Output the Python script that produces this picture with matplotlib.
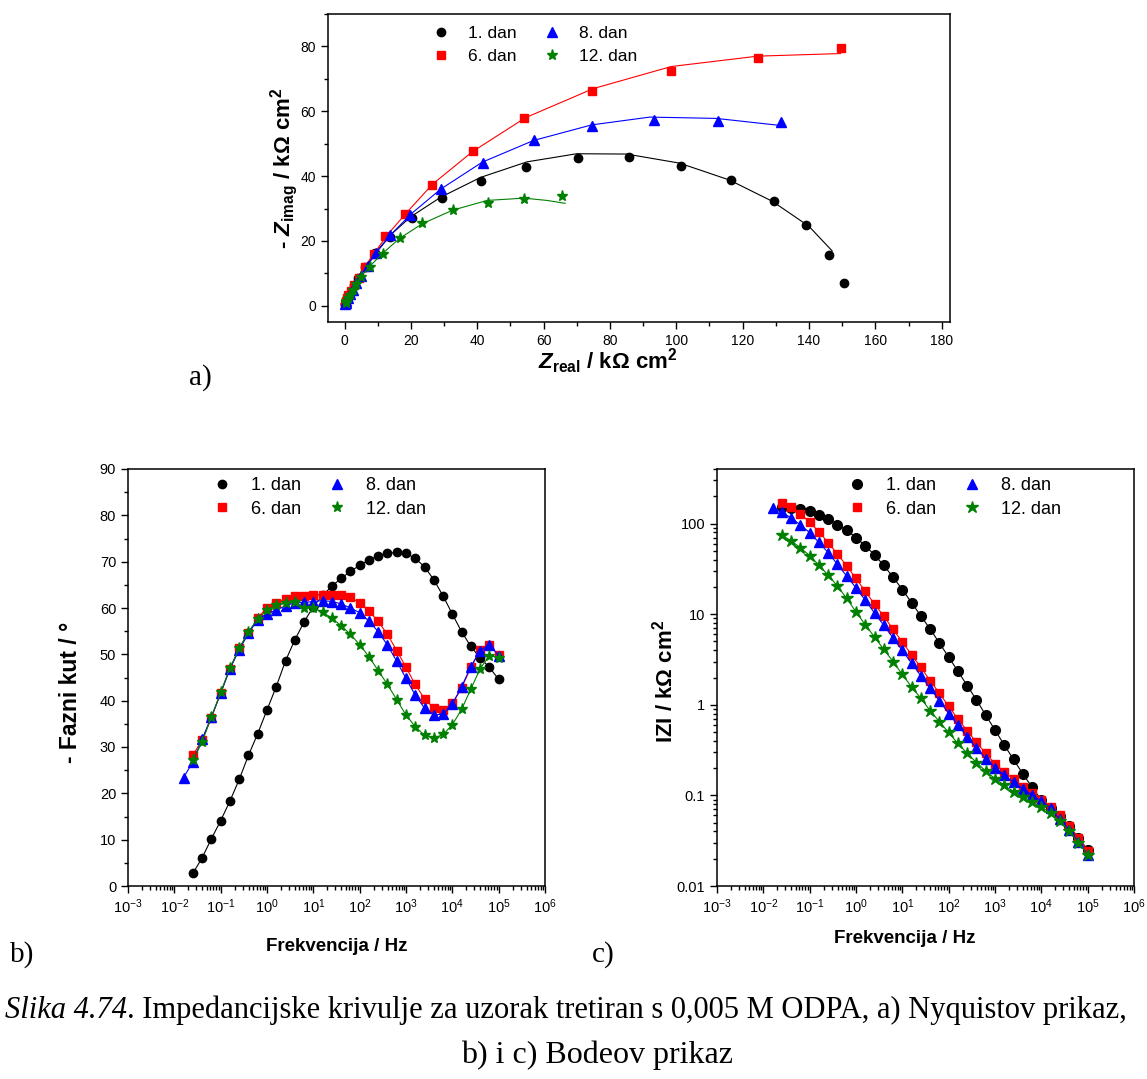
import matplotlib
matplotlib.use('Agg')
import matplotlib.pyplot as plt
from matplotlib.ticker import MultipleLocator, LogLocator, NullFormatter

plt.rcParams['font.family'] = ['Liberation Sans', 'DejaVu Sans']
plt.rcParams['mathtext.fontset'] = 'custom'
plt.rcParams['mathtext.rm'] = 'Liberation Sans'
plt.rcParams['mathtext.it'] = 'Liberation Sans:italic:bold'
plt.rcParams['mathtext.bf'] = 'Liberation Sans:bold'

labels = ['1. dan', '6. dan', '8. dan', '12. dan']
colors = ['black', 'red', 'blue', 'green']
markers = ['o', 's', '^', '*']

# Nyquist (kOhm cm2)
nyq_re = [
    [150.5, 146.0, 139.1, 129.4, 116.6, 101.4, 85.7, 70.3, 54.8, 41.0, 29.3, 20.2, 13.6, 9.3, 6.1, 4.1, 2.7, 1.8, 1.2, 0.8, 0.53, 0.35, 0.23, 0.15],
    [149.5, 124.5, 98.5, 74.6, 54.2, 38.6, 26.5, 18.2, 12.3, 8.9, 6.2, 4.2, 2.8, 1.8, 1.1, 0.7, 0.4, 0.2],
    [131.5, 112.5, 93.3, 74.6, 57.0, 41.6, 29.0, 19.8, 13.7, 9.4, 7.1, 5.0, 3.5, 2.4, 1.5, 1.0, 0.55, 0.3, 0.15],
    [65.6, 54.2, 43.1, 32.6, 23.4, 16.6, 11.5, 7.6, 5.0, 3.5, 2.4, 1.5, 1.0, 0.55, 0.3],
]
nyq_im = [
    [7.1, 15.8, 24.8, 32.4, 38.7, 43.2, 45.8, 45.7, 42.8, 38.4, 33.4, 27.2, 21.3, 16.2, 11.9, 8.6, 6.3, 4.4, 3.1, 2.2, 1.5, 1.05, 0.7, 0.5],
    [79.6, 76.5, 72.3, 66.4, 57.9, 47.7, 37.4, 28.3, 21.4, 15.9, 11.9, 8.7, 6.4, 4.6, 3.3, 2.3, 1.4, 0.7],
    [56.7, 57.0, 57.2, 55.5, 51.2, 44.1, 35.9, 28.1, 21.8, 16.4, 12.3, 9.3, 6.9, 5.0, 3.5, 2.5, 1.5, 0.8, 0.4],
    [33.9, 33.0, 31.8, 29.5, 25.4, 21.0, 16.1, 12.0, 8.9, 6.6, 4.8, 3.4, 2.4, 1.5, 0.8],
]
# fitted curves in the Nyquist plot
fit_re = [
    [0, 2, 5, 9, 14, 20, 29, 41, 55, 70, 85, 101, 116, 129, 140, 147],
    [0, 2, 5, 9, 13, 18.5, 26.5, 38.5, 54.5, 75, 98.5, 124.5, 149.5],
    [0, 2, 5, 9.5, 14, 20, 29, 41.5, 57, 74.5, 92, 112, 131.5],
    [0, 1.5, 3.5, 5, 7.6, 11.5, 16.6, 23.4, 32.6, 43, 54, 61, 66.5],
]
fit_im = [
    [0, 4.5, 10, 16, 22, 27.5, 33.5, 39.6, 44.4, 46.9, 46.8, 44.0, 38.8, 32.2, 24.5, 16.9],
    [0, 4.8, 10.5, 16.3, 22, 28.5, 37.5, 47.5, 58, 67, 73.8, 77, 77.8],
    [0, 4.3, 9.5, 16.3, 22, 28.3, 36, 44.3, 51, 55.8, 58.2, 57.8, 55.6],
    [0, 3.4, 6.8, 9, 12.2, 16.2, 20.8, 25.3, 29.5, 32.5, 33.2, 32.5, 31.6],
]

# Bode data
freq = [0.0251, 0.0398, 0.0631, 0.1, 0.158, 0.251, 0.398, 0.631, 1.0, 1.58, 2.51, 3.98, 6.31,
        10, 15.8, 25.1, 39.8, 63.1, 100, 158, 251, 398, 631, 1000, 1580, 2510, 3980, 6310,
        10000, 15800, 25100, 39800, 63100, 100000]
freq8 = [0.0158] + freq
freqs = [freq, freq, freq8, freq]

phase = [
    [2.7, 6.1, 10.2, 14.1, 18.3, 23.0, 28.2, 32.9, 38.0, 43.0, 48.6, 53.1, 57.0, 60.3, 62.7, 64.7, 66.4,
     67.9, 69.2, 70.4, 71.2, 71.8, 72.0, 71.8, 70.7, 68.9, 66.1, 62.6, 58.7, 54.9, 51.7, 49.2, 47.2, 44.6],
    [28.2, 31.5, 36.3, 41.6, 46.9, 51.3, 54.6, 57.8, 60.1, 61.1, 61.9, 62.6, 62.6, 62.9, 62.9, 62.9, 62.8,
     62.3, 61.1, 59.4, 57.1, 54.3, 50.8, 47.2, 43.5, 40.4, 38.4, 37.9, 39.4, 42.7, 47.2, 51.0, 52.0, 49.8],
    [23.4, 26.8, 31.7, 36.5, 41.6, 46.8, 51.0, 54.5, 57.5, 58.8, 59.5, 60.5, 61.1, 61.2, 61.4, 61.6, 61.4,
     60.9, 60.0, 59.0, 57.2, 54.9, 52.0, 48.5, 44.8, 41.2, 38.4, 36.9, 37.1, 39.2, 43.0, 47.3, 50.8, 52.1, 49.7],
    [27.1, 31.1, 36.5, 41.8, 47.0, 51.3, 54.9, 57.6, 59.6, 60.6, 61.0, 61.3, 60.1, 60.0, 59.1, 57.8, 56.2,
     54.3, 52.1, 49.5, 46.5, 43.5, 40.2, 36.9, 34.4, 32.5, 31.9, 32.7, 34.8, 38.1, 42.5, 46.9, 49.7, 49.3],
]
modz = [
    [153, 148, 144, 136, 124, 112, 96.7, 84.4, 70, 57, 45, 34.5, 25.6, 18.7, 13.4, 9.55, 6.86, 4.8, 3.36,
     2.35, 1.63, 1.13, 0.77, 0.526, 0.361, 0.249, 0.173, 0.123, 0.089, 0.073, 0.059, 0.0457, 0.034, 0.0252],
    [168, 152, 128, 103.5, 81.5, 61.5, 46.1, 34, 24.8, 17.9, 12.9, 9.5, 6.8, 4.93, 3.56, 2.58, 1.85, 1.34,
     0.96, 0.697, 0.517, 0.384, 0.29, 0.224, 0.182, 0.151, 0.125, 0.107, 0.090, 0.075, 0.0606, 0.0457, 0.034, 0.0246],
    [148, 134, 115, 96.7, 79.4, 62, 47.7, 35.4, 26.3, 19.5, 14.3, 10.3, 7.54, 5.46, 3.98, 2.88, 2.09, 1.52,
     1.11, 0.80, 0.597, 0.443, 0.33, 0.255, 0.203, 0.167, 0.141, 0.119, 0.101, 0.0867, 0.0718, 0.0542, 0.042, 0.0304, 0.0222],
    [74.8, 64.2, 54.2, 44.2, 34.8, 27, 20.4, 14.9, 10.6, 7.66, 5.6, 4.08, 3.0, 2.16, 1.58, 1.18, 0.861, 0.65,
     0.495, 0.374, 0.292, 0.23, 0.186, 0.153, 0.129, 0.11, 0.0968, 0.0844, 0.0743, 0.0643, 0.052, 0.0403, 0.0299, 0.0222],
]

W, H = 1147, 1079
fig = plt.figure(figsize=(W / 100, H / 100), dpi=100)


def px_axes(l, t, r, b):
    return fig.add_axes([l / W, 1 - b / H, (r - l) / W, (b - t) / H])


def style(ax, fs):
    ax.tick_params(which='both', direction='out', top=False, right=False, labelsize=fs, width=1)
    ax.tick_params(which='major', length=5)
    ax.tick_params(which='minor', length=3)
    for s in ax.spines.values():
        s.set_linewidth(1.1)


ms = {'o': 6, 's': 5.2, '^': 6.5, '*': 8}
leg_kw = dict(ncol=2, frameon=False, loc='upper left', borderpad=0, borderaxespad=0,
              handlelength=1.0, handletextpad=1.1, columnspacing=1.5)

# ---- a) Nyquist
ax1 = px_axes(328, 14, 950, 322)
for i in range(4):
    ax1.plot(fit_re[i], fit_im[i], color=colors[i], lw=0.8)
    ax1.plot(nyq_re[i], nyq_im[i], ls='none', marker=markers[i], color=colors[i],
             ms=ms[markers[i]], label=labels[i])
ax1.set_xlim(-5, 182.5)
ax1.set_ylim(-5, 90)
ax1.xaxis.set_major_locator(MultipleLocator(20))
ax1.xaxis.set_minor_locator(MultipleLocator(10))
ax1.yaxis.set_major_locator(MultipleLocator(20))
ax1.yaxis.set_minor_locator(MultipleLocator(10))
style(ax1, 10)
ax1.set_xlabel(r'$\mathit{Z}_{\mathbf{real}}$ / kΩ cm$^{\mathbf{2}}$', fontsize=16, fontweight='bold')
ax1.set_ylabel(r'- $\mathit{Z}_{\mathbf{imag}}$ / kΩ cm$^{\mathbf{2}}$', fontsize=16, fontweight='bold')
ax1.xaxis.set_label_coords(0.45, -0.08)
ax1.yaxis.set_label_coords(-0.045, 0.5)
ax1.legend(fontsize=12.5, bbox_to_anchor=(0.167, 0.962), labelspacing=0.45, **leg_kw)

# ---- b) phase
ax2 = px_axes(128, 469, 545, 886)
for i in range(4):
    ax2.plot(freqs[i], phase[i], color=colors[i], lw=0.8)
    ax2.plot(freqs[i], phase[i], ls='none', color=colors[i], marker=markers[i],
             ms=ms[markers[i]], label=labels[i])
ax2.set_xscale('log')
ax2.set_xlim(1e-3, 1e6)
ax2.set_ylim(0, 90)
ax2.yaxis.set_major_locator(MultipleLocator(10))
ax2.yaxis.set_minor_locator(MultipleLocator(5))
ax2.xaxis.set_major_locator(LogLocator(base=10, numticks=20))
ax2.xaxis.set_minor_locator(LogLocator(base=10, subs=range(2, 10), numticks=20))
ax2.xaxis.set_minor_formatter(NullFormatter())
style(ax2, 10.5)
ax2.set_xlabel('Frekvencija / Hz', fontsize=13.5, fontweight='bold')
ax2.set_ylabel('- Fazni kut / °', fontsize=16.5, fontweight='bold')
ax2.xaxis.set_label_coords(0.5, -0.125)
ax2.yaxis.set_label_coords(-0.11, 0.465)
ax2.legend(fontsize=13, bbox_to_anchor=(0.204, 0.98), labelspacing=0.35, **leg_kw)

# ---- c) |Z|
ax3 = px_axes(717, 469, 1134, 886)
for i in range(4):
    ax3.plot(freqs[i], modz[i], color=colors[i], lw=0.8)
    ax3.plot(freqs[i], modz[i], ls='none', color=colors[i], marker=markers[i],
             ms=ms[markers[i]] + 1, label=labels[i])
ax3.set_xscale('log')
ax3.set_yscale('log')
ax3.set_xlim(1e-3, 1e6)
ax3.set_ylim(0.01, 400)
ax3.xaxis.set_major_locator(LogLocator(base=10, numticks=20))
ax3.xaxis.set_minor_locator(LogLocator(base=10, subs=range(2, 10), numticks=20))
ax3.xaxis.set_minor_formatter(NullFormatter())
ax3.set_yticks([0.01, 0.1, 1, 10, 100])
ax3.set_yticklabels(['0.01', '0.1', '1', '10', '100'])
ax3.yaxis.set_minor_locator(LogLocator(base=10, subs=range(2, 10), numticks=20))
ax3.yaxis.set_minor_formatter(NullFormatter())
style(ax3, 10.5)
ax3.set_xlabel('Frekvencija / Hz', fontsize=13.5, fontweight='bold')
ax3.set_ylabel(r'IZI / kΩ cm$^{\mathbf{2}}$', fontsize=16, fontweight='bold')
ax3.xaxis.set_label_coords(0.45, -0.105)
ax3.yaxis.set_label_coords(-0.095, 0.49)
ax3.legend(fontsize=13, bbox_to_anchor=(0.314, 0.98), labelspacing=0.35, **leg_kw)

# panel letters and caption
serif = 'Liberation Serif'
fig.text(200 / W, 1 - 378 / H, 'a)', family=serif, fontsize=21, ha='center', va='center')
fig.text(22 / W, 1 - 955 / H, 'b)', family=serif, fontsize=21, ha='center', va='center')
fig.text(603 / W, 1 - 955 / H, 'c)', family=serif, fontsize=21, ha='center', va='center')
t1 = fig.text(5 / W, 1 - 1018 / H, 'Slika 4.74', family=serif, style='italic', fontsize=22,
              va='baseline')
ax1.annotate('. Impedancijske krivulje za uzorak tretiran s 0,005 M ODPA, a) Nyquistov prikaz,',
             xy=(1, 0), xycoords=t1, va='bottom', ha='left', family=serif, fontsize=22,
             annotation_clip=False)
fig.text(597 / W, 1 - 1063 / H, 'b) i c) Bodeov prikaz', family=serif, fontsize=23,
         ha='center', va='baseline')

fig.savefig('out.png', dpi=100)
